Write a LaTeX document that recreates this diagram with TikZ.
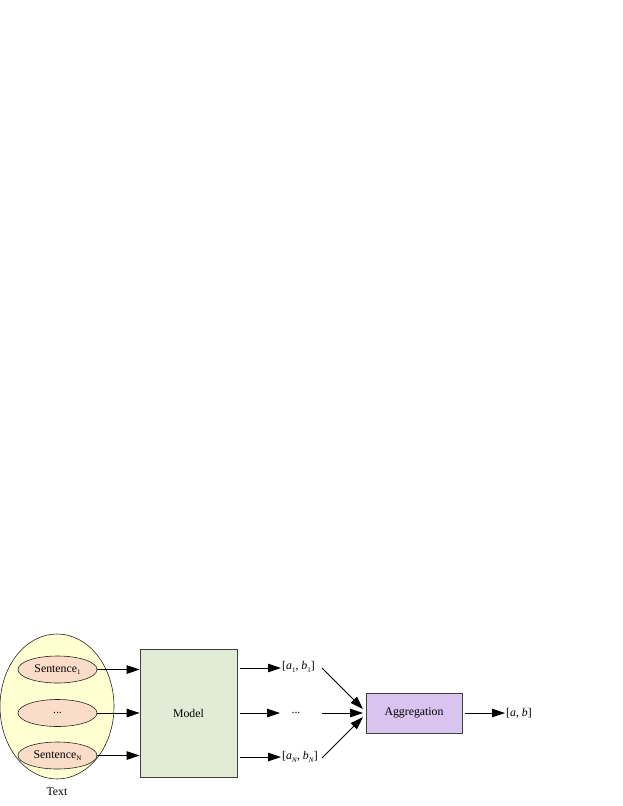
\documentclass[tikz,border=0pt]{standalone}
\usepackage{fontspec}
\setmainfont{Liberation Serif}
\usetikzlibrary{arrows.meta,shapes.geometric}
\definecolor{outerfill}{HTML}{FFFFD2}
\definecolor{sentfill}{HTML}{FBDCC8}
\definecolor{modelfill}{HTML}{E0ECD6}
\definecolor{aggfill}{HTML}{D9C3EF}
\newcommand\mysubs[1]{\raisebox{-0.5ex}{\fontsize{7}{8}\selectfont #1}}
\tikzset{
  ell/.style={ellipse,draw=black!85,line width=0.6pt,inner sep=0pt},
  sent/.style={ell,fill=sentfill,minimum width=79pt,minimum height=27pt},
  boxn/.style={draw=black!75,line width=0.6pt},
  lab/.style={inner sep=1pt},
  arr/.style={-{Triangle[length=13pt,width=8.5pt]},line width=0.8pt,black},
  every node/.style={font=\fontsize{11.8}{14}\selectfont}
}
\begin{document}
\begin{tikzpicture}[x=1pt,y=-1pt]
\useasboundingbox (0,0) rectangle (623,806);
\node[ell,fill=outerfill,minimum width=114pt,minimum height=145pt] (outer) at (57,706.5) {};
\node[sent] (s1) at (57.5,669.5) {Sentence\mysubs{1}};
\node[sent] (s2) at (57.5,713) {...};
\node[sent] (sN) at (57.5,755.5) {Sentence\mysubs{N}};
\node[lab] (text) at (57,792) {Text};
\node[boxn,fill=modelfill,minimum width=97pt,minimum height=128pt] (model) at (188.5,713) {Model};
\node[lab,anchor=west] (o1) at (281,667) {[\textit{a}\mysubs{1}, \textit{b}\mysubs{1}]};
\node[lab] (od) at (296,713) {...};
\node[lab,anchor=west] (oN) at (281,757) {[\textit{a}\mysubs{\textit{N}}, \textit{b}\mysubs{\textit{N}}]};
\node[boxn,fill=aggfill,minimum width=96pt,minimum height=40pt] (agg) at (414,713) {Aggregation};
\node[lab,anchor=west] (out) at (505,713) {[\textit{a}, \textit{b}]};
\coordinate (m1) at (240,668);
\coordinate (md) at (240,713);
\coordinate (mN) at (240,757);
\coordinate (d1) at (280,713);
\coordinate (i1) at (363,709);
\coordinate (id) at (363,713);
\coordinate (iN) at (363,717);
\coordinate (a1) at (322,668);
\coordinate (ad) at (322,713);
\coordinate (aN) at (322,758);
\draw[arr] (s1.east) -- (model.west |- s1.east);
\draw[arr] (s2.east) -- (model.west |- s2.east);
\draw[arr] (sN.east) -- (model.west |- sN.east);
\draw[arr] (m1) -- (o1.west |- m1);
\draw[arr] (md) -- (d1);
\draw[arr] (mN) -- (oN.west |- mN);
\draw[arr] (a1) -- (i1);
\draw[arr] (ad) -- (id);
\draw[arr] (aN) -- (iN);
\draw[arr,shorten <=3pt] (agg.east) -- (out.west);
\end{tikzpicture}
\end{document}
